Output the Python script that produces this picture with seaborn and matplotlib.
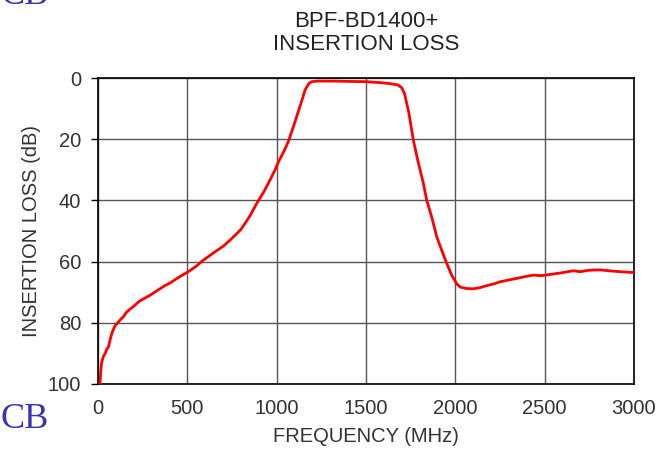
import matplotlib.pyplot as plt
import pandas as pd
import seaborn as sns

# Curve (frequency in MHz, insertion loss in dB)
freq = [11, 15, 20, 25, 30, 40, 50, 58, 70, 80, 95, 110, 125, 142, 160, 180, 198,
        230, 260, 291, 330, 370, 403, 450, 505, 550, 590, 650, 700, 739, 800, 851,
        888, 930, 963, 991, 1009, 1040, 1065, 1090, 1112, 1140, 1159, 1180, 1196,
        1230, 1270, 1317, 1400, 1504, 1578, 1630, 1653, 1680, 1700, 1715, 1728,
        1737, 1750, 1765, 1790, 1821, 1840, 1868, 1896, 1925, 1952, 1980, 2008,
        2030, 2063, 2101, 2138, 2180, 2220, 2250, 2300, 2350, 2400, 2437, 2480,
        2530, 2580, 2620, 2660, 2700, 2750, 2810, 2860, 2900, 2950, 3000]
loss = [100, 96, 93, 92, 91, 90, 88.5, 88, 85, 83, 81, 80, 79, 78, 76.5, 75.5, 74.7,
        73, 72, 71, 69.5, 68, 67, 65.2, 63.3, 61.5, 59.5, 57, 55, 53, 49.5, 45,
        41, 37, 33.3, 30, 27.5, 24, 20.8, 16.5, 12.6, 7.5, 3.9, 1.8, 1.2,
        1.0, 1.0, 1.0, 1.1, 1.2, 1.5, 1.8, 2.0, 2.3, 3.2, 5, 8.3,
        10.5, 15, 20.3, 27, 34.4, 40, 45.5, 51.9, 56.5, 60.6, 64.5, 67.3,
        68.4, 68.8, 68.9, 68.5, 67.8, 67.2, 66.6, 66, 65.4, 64.8, 64.4, 64.6,
        64.2, 63.8, 63.4, 63, 63.3, 62.8, 62.7, 63.0, 63.2, 63.4, 63.6]

x_ticks = [0, 500, 1000, 1500, 2000, 2500, 3000]
y_ticks = [0, 20, 40, 60, 80, 100]

df = pd.DataFrame({'freq': freq, 'loss': loss})

sns.set_style('white')
plt.rcParams['font.family'] = ['Liberation Sans', 'DejaVu Sans']

fig = plt.figure(figsize=(6.57, 4.51), dpi=100)
ax = fig.add_axes([0.1492, 0.1486, 0.8158, 0.6784])

sns.lineplot(data=df, x='freq', y='loss', color='#ff0000', linewidth=2, ax=ax, zorder=3)

ax.set_xlim(0, 3000)
ax.set_ylim(100, 0)
ax.set_xticks(x_ticks)
ax.set_yticks(y_ticks)
ax.grid(True, color='#555555', linewidth=1, zorder=1)
for s in ax.spines.values():
    s.set_color('black')
    s.set_linewidth(1.2)

ax.tick_params(axis='y', left=True, length=5, width=1, color='black', labelsize=14.5,
               labelcolor='#333333', pad=7)
ax.tick_params(axis='x', bottom=False, labelsize=14.5, labelcolor='#333333', pad=7)

ax.set_xlabel('FREQUENCY (MHz)', fontsize=14.5, color='#333333', labelpad=7)
ax.set_ylabel('INSERTION LOSS (dB)', fontsize=14.5, color='#333333', labelpad=5)
ax.set_title('BPF-BD1400+\nINSERTION LOSS', fontsize=16, color='#222222', pad=20,
             linespacing=1.12)

# stray watermark text
fig.text(0.0, 1 - 4 / 451, 'CB', fontsize=26, color='#3333bb', family='Liberation Serif',
         va='baseline', ha='left')
fig.text(0.0, 1 - 428 / 451, 'CB', fontsize=26, color='#3333bb', family='Liberation Serif',
         va='baseline', ha='left')

fig.savefig('out.png', dpi=100)
